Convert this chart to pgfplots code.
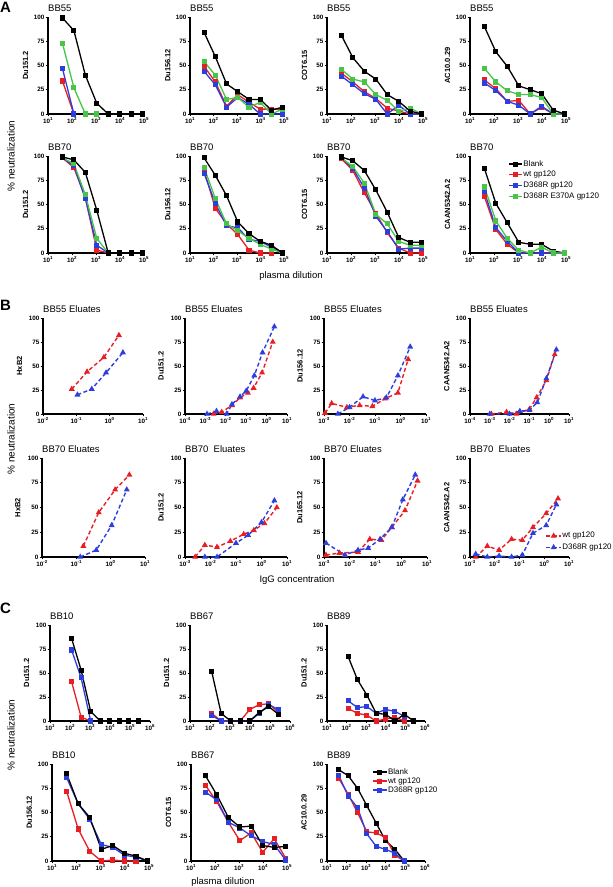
\documentclass[border=0pt]{standalone}
\usepackage{pgfplots}
\usepackage{pgfplotstable}
\pgfplotsset{compat=1.18}
\usepackage{fontspec}
\setmainfont{Liberation Sans}
\definecolor{cR}{RGB}{232,30,37}
\definecolor{cB}{RGB}{45,62,222}
\definecolor{cG}{RGB}{72,196,72}
\newcommand{\xtl}[1]{10\textsuperscript{#1}}
\newcommand{\tickfont}{\fontsize{6.3}{7}\selectfont\bfseries}

\pgfplotsset{
 every axis title shift=0pt,
 prismax/.style={scale only axis, ymin=0, ymax=100,
   axis x line=bottom, axis y line=left, axis line style={-, line width=1.2pt, black},
   tick align=outside, major tick length=2.5pt,
   every tick/.append style={black, line width=0.9pt},
   xminorticks=false,
   ytick={0,25,50,75,100}, yticklabels={0,25,50,75,100},
   tick label style={font=\tickfont},
   xticklabel style={inner sep=1pt},
   yticklabel style={inner sep=1pt},
   ylabel style={at={(axis description cs:-0.235,0.5)}, anchor=center, font=\fontsize{7.5}{8}\selectfont\bfseries},
   title style={at={(axis description cs:0,1)}, anchor=base west, yshift=5pt, font=\fontsize{9.5}{11}\selectfont, inner sep=0pt},
   clip=false},
 ticksA/.style={xmin=10, xmax=1e5, xtick={1e1,1e2,1e3,1e4,1e5}, xticklabels={\xtl{1},\xtl{2},\xtl{3},\xtl{4},\xtl{5}}},
 ticksC/.style={xmin=10, xmax=1e6, xtick={1e1,1e2,1e3,1e4,1e5,1e6}, xticklabels={\xtl{1},\xtl{2},\xtl{3},\xtl{4},\xtl{5},\xtl{6}}},
 ticksBtwo/.style={xmin=1e-2, xmax=10, xtick={1e-2,1e-1,1,10}, xticklabels={\xtl{-2},\xtl{-1},\xtl{0},\xtl{1}}},
 ticksBthree/.style={xmin=1e-3, xmax=10, xtick={1e-3,1e-2,1e-1,1,10}, xticklabels={\xtl{-3},\xtl{-2},\xtl{-1},\xtl{0},\xtl{1}}},
 ticksBfour/.style={xmin=1e-4, xmax=10, xtick={1e-4,1e-3,1e-2,1e-1,1,10}, xticklabels={\xtl{-4},\xtl{-3},\xtl{-2},\xtl{-1},\xtl{0},\xtl{1}}},
 serK/.style={black, line width=1.3pt, mark=square*, mark size=1.9pt, mark options={solid}},
 serR/.style={cR, line width=1.3pt, mark=square*, mark size=1.9pt, mark options={solid}},
 serB/.style={cB, line width=1.3pt, mark=square*, mark size=1.9pt, mark options={solid}},
 serG/.style={cG, line width=1.3pt, mark=square*, mark size=1.9pt, mark options={solid}},
 dashR/.style={cR, line width=1.4pt, dash pattern=on 4pt off 2.5pt, mark=triangle*, mark size=2.1pt, mark options={solid}},
 dashB/.style={cB, line width=1.4pt, dash pattern=on 4pt off 2.5pt, mark=triangle*, mark size=2.1pt, mark options={solid}},
 mylegend/.style={legend cell align=left,
   legend style={draw=none, fill=none, font=\fontsize{8}{9}\selectfont, inner sep=0pt, anchor=north west,
     nodes={inner sep=0.5pt, text height=6pt, text depth=2pt}}},
}

% ---------- Panel A tables: x, Blank (k), wt (r), D368R (b), D368R E370A (g)
\pgfplotstableread{
x k r b g
40 99 34 47 73
120 86 0 0 27
360 40 nan nan 0
1080 11 nan nan 0
3240 0 nan nan nan
9720 0 nan nan nan
29160 0 nan nan nan
87480 0 nan nan nan
}\Aone
\pgfplotstableread{
x k r b g
40 84 49 44 54
120 59 33 30 40
360 31 8 7 15
1080 23 20 17 17
3240 15 12 10 7
9720 15 5 0 12
29160 4 5 0 0
87480 7 5 0 5
}\Atwo
\pgfplotstableread{
x k r b g
40 81 42 39 46
120 58 33 30 36
360 44 23 21 33
1080 36 16 15 20
3240 20 6 0 14
9720 13 3 9 3
29160 3 0 0 6
87480 0 0 0 0
}\Athree
\pgfplotstableread{
x k r b g
40 90 35 32 47
120 64 26 24 33
360 49 13 13 24
1080 29 14 9 20
3240 25 0 0 20
9720 21 7 8 17
29160 4 0 0 0
87480 0 0 0 0
}\Afour
\pgfplotstableread{
x k r b g
40 99 98 98 98
120 96 88 90 92
360 83 57 56 60
1080 44 3 8 15
3240 0 0 0 0
9720 0 nan nan nan
29160 0 nan nan nan
87480 0 nan nan nan
}\Afive
\pgfplotstableread{
x k r b g
40 98 85 82 88
120 80 46 51 56
360 59 30 28 30
1080 32 19 26 23
3240 20 3 14 15
9720 12 0 12 9
29160 8 0 6 4
87480 0 nan 0 0
}\Asix
\pgfplotstableread{
x k r b g
40 99 97 98 98
120 95 85 87 89
360 85 62 67 72
1080 65 41 38 40
3240 42 21 22 30
9720 16 5 4 12
29160 11 0 5 8
87480 11 0 5 8
}\Aseven
\pgfplotstableread{
x k r b g
40 87 58 63 68
120 51 24 26 33
360 31 9 12 15
1080 11 0 0 3
3240 9 0 0 0
9720 9 0 0 6
29160 2 0 0 0
87480 0 0 0 0
}\Aeight
% ---------- Panel C tables: x, Blank (k), wt (r), D368R (b)
\pgfplotstableread{
x k r b
120 86 41 74
360 53 4 45
1080 10 0 0
3240 0 nan nan
9720 0 nan nan
29160 0 nan nan
87480 0 nan nan
262440 0 nan nan
}\Cone
\pgfplotstableread{
x k r b
120 52 8 6
360 8 0 0
1080 0 0 0
3240 0 0 0
9720 0 12 0
29160 9 17 8
87480 15 18 17
262440 7 9 12
}\Ctwo
\pgfplotstableread{
x k r b
120 67 13 21
360 43 8 14
1080 27 6 15
3240 8 0 8
9720 7 2 12
29160 0 4 10
87480 7 0 5
262440 0 nan nan
}\Cthree
\pgfplotstableread{
x k r b
40 90 72 86
120 59 33 59
360 45 10 43
1080 12 0 17
3240 16 1 14
9720 8 0 6
29160 5 0 4
87480 0 nan 0
}\Cfour
\pgfplotstableread{
x k r b
40 88 78 71
120 68 61 63
360 45 40 40
1080 35 21 34
3240 36 29 26
9720 16 9 20
29160 14 23 17
87480 15 3 1
}\Cfive
\pgfplotstableread{
x k r b
40 94 85 88
120 88 69 67
360 75 50 55
1080 57 30 28
3240 39 29 15
9720 21 24 12
29160 12 6 8
87480 0 0 0
}\Csix

\begin{document}
\begin{tikzpicture}
\useasboundingbox (0pt,0pt) rectangle (613pt,887pt);

% ================= PANEL A =================
\begin{semilogxaxis}[prismax, ticksA, width=96pt, height=97pt, title={BB55}, ylabel={Du151.2}, at={(48pt,773pt)}, anchor=south west]
\addplot[serR] table[x=x,y=r]{\Aone};
\addplot[serB] table[x=x,y=b]{\Aone};
\addplot[serG] table[x=x,y=g]{\Aone};
\addplot[serK] table[x=x,y=k]{\Aone};
\end{semilogxaxis}
\begin{semilogxaxis}[prismax, ticksA, width=94pt, height=97pt, title={BB55}, ylabel={Du156.12}, at={(190pt,773pt)}, anchor=south west]
\addplot[serR] table[x=x,y=r]{\Atwo};
\addplot[serB] table[x=x,y=b]{\Atwo};
\addplot[serG] table[x=x,y=g]{\Atwo};
\addplot[serK] table[x=x,y=k]{\Atwo};
\end{semilogxaxis}
\begin{semilogxaxis}[prismax, ticksA, width=96pt, height=97pt, title={BB55}, ylabel={COT6.15}, at={(327pt,773pt)}, anchor=south west]
\addplot[serR] table[x=x,y=r]{\Athree};
\addplot[serB] table[x=x,y=b]{\Athree};
\addplot[serG] table[x=x,y=g]{\Athree};
\addplot[serK] table[x=x,y=k]{\Athree};
\end{semilogxaxis}
\begin{semilogxaxis}[prismax, ticksA, width=96pt, height=97pt, title={BB55}, ylabel={AC10.0.29}, at={(470pt,773pt)}, anchor=south west]
\addplot[serR] table[x=x,y=r]{\Afour};
\addplot[serB] table[x=x,y=b]{\Afour};
\addplot[serG] table[x=x,y=g]{\Afour};
\addplot[serK] table[x=x,y=k]{\Afour};
\end{semilogxaxis}
\begin{semilogxaxis}[prismax, ticksA, width=96pt, height=97pt, title={BB70}, ylabel={Du151.2}, at={(48pt,634pt)}, anchor=south west]
\addplot[serR] table[x=x,y=r]{\Afive};
\addplot[serB] table[x=x,y=b]{\Afive};
\addplot[serG] table[x=x,y=g]{\Afive};
\addplot[serK] table[x=x,y=k]{\Afive};
\end{semilogxaxis}
\begin{semilogxaxis}[prismax, ticksA, width=94pt, height=97pt, title={BB70}, ylabel={Du156.12}, at={(190pt,634pt)}, anchor=south west]
\addplot[serR] table[x=x,y=r]{\Asix};
\addplot[serB] table[x=x,y=b]{\Asix};
\addplot[serG] table[x=x,y=g]{\Asix};
\addplot[serK] table[x=x,y=k]{\Asix};
\end{semilogxaxis}
\begin{semilogxaxis}[prismax, ticksA, width=96pt, height=97pt, title={BB70}, ylabel={COT6.15}, at={(327pt,634pt)}, anchor=south west]
\addplot[serR] table[x=x,y=r]{\Aseven};
\addplot[serB] table[x=x,y=b]{\Aseven};
\addplot[serG] table[x=x,y=g]{\Aseven};
\addplot[serK] table[x=x,y=k]{\Aseven};
\end{semilogxaxis}
\begin{semilogxaxis}[prismax, ticksA, mylegend, width=96pt, height=97pt, title={BB70}, ylabel={CAAN5342.A2},
  legend style={at={(axis description cs:0.40,0.965)}, row sep=1.7pt},
  legend image code/.code={\draw[mark repeat=2,mark phase=2] plot coordinates {(0pt,0pt)(6.5pt,0pt)(13pt,0pt)};},
  at={(470pt,634pt)}, anchor=south west]
\addplot[serK] table[x=x,y=k]{\Aeight};
\addplot[serR] table[x=x,y=r]{\Aeight};
\addplot[serB] table[x=x,y=b]{\Aeight};
\addplot[serG] table[x=x,y=g]{\Aeight};
\legend{Blank, wt gp120, D368R gp120, D368R E370A gp120}
\end{semilogxaxis}

% ================= PANEL B =================
\begin{semilogxaxis}[prismax, ticksBtwo, width=100pt, height=96pt, title={BB55 Eluates}, ylabel={HxB2}, at={(43pt,473pt)}, anchor=south west]
\addplot[dashR] coordinates {(0.073,26)(0.21,44)(0.67,59)(1.9,82)};
\addplot[dashB] coordinates {(0.108,20)(0.29,26)(0.78,43)(2.5,64)};
\end{semilogxaxis}
\begin{semilogxaxis}[prismax, ticksBfour, width=102pt, height=96pt, title={BB55 Eluates}, ylabel={Du151.2}, at={(185pt,473pt)}, anchor=south west]
\addplot[dashR] coordinates {(0.0025,0)(0.0063,2)(0.02,9)(0.05,17)(0.12,22)(0.23,27)(0.6,43)(2.0,75)};
\addplot[dashB] coordinates {(0.0012,0)(0.0035,3)(0.011,0)(0.02,10)(0.05,18)(0.1,24)(0.25,40)(0.63,64)(2.4,91)};
\end{semilogxaxis}
\begin{semilogxaxis}[prismax, ticksBthree, width=102pt, height=96pt, title={BB55 Eluates}, ylabel={Du156.12}, at={(324pt,473pt)}, anchor=south west]
\addplot[dashR] coordinates {(0.0011,1)(0.002,11)(0.0079,7)(0.025,9)(0.079,8)(0.25,16)(0.79,22)(2.0,57)};
\addplot[dashB] coordinates {(0.0035,0)(0.01,7)(0.034,18)(0.1,14)(0.28,17)(0.79,40)(2.4,70)};
\end{semilogxaxis}
\begin{semilogxaxis}[prismax, ticksBfour, width=99pt, height=96pt, title={BB55 Eluates}, ylabel={CAAN5342.A2}, at={(470pt,473pt)}, anchor=south west]
\addplot[dashR] coordinates {(0.0012,0)(0.007,2)(0.022,0)(0.1,5)(0.23,17)(0.72,35)(1.9,62)};
\addplot[dashB] coordinates {(0.001,0)(0.01,0)(0.033,3)(0.1,4)(0.25,12)(0.72,37)(2.3,67)};
\end{semilogxaxis}
\begin{semilogxaxis}[prismax, ticksBtwo, width=103pt, height=99pt, title={BB70 Eluates}, ylabel={HxB2}, at={(42pt,330pt)}, anchor=south west]
\addplot[dashR] coordinates {(0.16,11)(0.45,45)(1.35,68)(3.5,83)};
\addplot[dashB] coordinates {(0.13,0)(0.38,7)(1.07,32)(2.95,68)};
\end{semilogxaxis}
\begin{semilogxaxis}[prismax, ticksBthree, width=102pt, height=99pt, title={BB70\ \ Eluates}, ylabel={Du151.2}, at={(185pt,330pt)}, anchor=south west]
\addplot[dashR] coordinates {(0.0025,0)(0.006,12)(0.018,10)(0.06,16)(0.2,23)(0.5,27)(1.3,34)(4,50)};
\addplot[dashB] coordinates {(0.006,0)(0.018,0)(0.1,14)(0.3,22)(1.0,35)(3.2,57)};
\end{semilogxaxis}
\begin{semilogxaxis}[prismax, ticksBthree, width=103pt, height=99pt, title={BB70 Eluates}, ylabel={Du165.12}, at={(324pt,330pt)}, anchor=south west]
\addplot[dashR] coordinates {(0.0012,2)(0.004,4)(0.021,5)(0.06,18)(0.17,17)(0.43,30)(1.4,47)(4.3,77)};
\addplot[dashB] coordinates {(0.0012,14)(0.0065,2)(0.021,7)(0.052,9)(0.15,18)(0.43,30)(1.15,58)(3.5,83)};
\end{semilogxaxis}
\begin{semilogxaxis}[prismax, ticksBthree, mylegend, width=99pt, height=99pt, title={BB70\ \ Eluates}, ylabel={CAAN5342.A2},
  legend style={at={(axis description cs:0.76,0.26)}, row sep=2.5pt},
  legend image code/.code={\draw[mark repeat=2,mark phase=2] plot coordinates {(0pt,0pt)(7.5pt,0pt)(15pt,0pt)};},
  at={(470pt,330pt)}, anchor=south west]
\addplot[dashR] coordinates {(0.0017,0)(0.005,11)(0.015,7)(0.048,18)(0.13,17)(0.35,30)(1.2,44)(3.6,59)};
\addplot[dashB] coordinates {(0.0017,3)(0.005,0)(0.015,1)(0.048,0)(0.13,2)(0.35,24)(1.2,32)(3.1,53)};
\legend{wt gp120, D368R gp120}
\end{semilogxaxis}

% ================= PANEL C =================
\begin{semilogxaxis}[prismax, ticksC, width=100pt, height=96pt, title={BB10}, ylabel={Du151.2}, at={(50pt,166pt)}, anchor=south west]
\addplot[serR] table[x=x,y=r]{\Cone};
\addplot[serB] table[x=x,y=b]{\Cone};
\addplot[serK] table[x=x,y=k]{\Cone};
\end{semilogxaxis}
\begin{semilogxaxis}[prismax, ticksC, width=100pt, height=96pt, title={BB67}, ylabel={Du151.2}, at={(190pt,166pt)}, anchor=south west]
\addplot[serR] table[x=x,y=r]{\Ctwo};
\addplot[serB] table[x=x,y=b]{\Ctwo};
\addplot[serK] table[x=x,y=k]{\Ctwo};
\end{semilogxaxis}
\begin{semilogxaxis}[prismax, ticksC, width=98pt, height=96pt, title={BB89}, ylabel={Du151.2}, at={(327pt,166pt)}, anchor=south west]
\addplot[serR] table[x=x,y=r]{\Cthree};
\addplot[serB] table[x=x,y=b]{\Cthree};
\addplot[serK] table[x=x,y=k]{\Cthree};
\end{semilogxaxis}
\begin{semilogxaxis}[prismax, ticksA, width=97pt, height=97pt, title={BB10}, ylabel={Du156.12}, at={(52pt,26pt)}, anchor=south west]
\addplot[serR] table[x=x,y=r]{\Cfour};
\addplot[serB] table[x=x,y=b]{\Cfour};
\addplot[serK] table[x=x,y=k]{\Cfour};
\end{semilogxaxis}
\begin{semilogxaxis}[prismax, ticksA, width=96pt, height=97pt, title={BB67}, ylabel={COT6.15}, at={(191pt,26pt)}, anchor=south west]
\addplot[serR] table[x=x,y=r]{\Cfive};
\addplot[serB] table[x=x,y=b]{\Cfive};
\addplot[serK] table[x=x,y=k]{\Cfive};
\end{semilogxaxis}
\begin{semilogxaxis}[prismax, ticksC, mylegend, width=98pt, height=97pt, title={BB89}, ylabel={AC10.0.29},
  legend style={at={(axis description cs:0.46,0.965)}, row sep=0pt},
  legend image code/.code={\draw[mark repeat=2,mark phase=2] plot coordinates {(0pt,0pt)(7pt,0pt)(14pt,0pt)};},
  at={(327pt,26pt)}, anchor=south west]
\addplot[serK] table[x=x,y=k]{\Csix};
\addplot[serR] table[x=x,y=r]{\Csix};
\addplot[serB] table[x=x,y=b]{\Csix};
\legend{Blank, wt gp120, D368R gp120}
\end{semilogxaxis}

% ================= Labels =================
\node[font=\fontsize{15}{15}\selectfont\bfseries, anchor=north west, inner sep=0pt] at (0pt,885pt) {A};
\node[font=\fontsize{15}{15}\selectfont\bfseries, anchor=north west, inner sep=0pt] at (0pt,587pt) {B};
\node[font=\fontsize{15}{15}\selectfont\bfseries, anchor=north west, inner sep=0pt] at (0pt,284pt) {C};
\node[rotate=90, font=\fontsize{10}{12}\selectfont, inner sep=0pt] at (11pt,731pt) {\% neutralization};
\node[rotate=90, font=\fontsize{10}{12}\selectfont, inner sep=0pt] at (11pt,448pt) {\% neutralization};
\node[rotate=90, font=\fontsize{10}{12}\selectfont, inner sep=0pt] at (11pt,152pt) {\% neutralization};
\node[font=\fontsize{9.5}{11}\selectfont, inner sep=0pt] at (291pt,611pt) {plasma dilution};
\node[font=\fontsize{9.5}{11}\selectfont, inner sep=0pt] at (297pt,307pt) {IgG concentration};
\node[font=\fontsize{9.5}{11}\selectfont, inner sep=0pt] at (223pt,5pt) {plasma dilution};
\end{tikzpicture}
\end{document}
